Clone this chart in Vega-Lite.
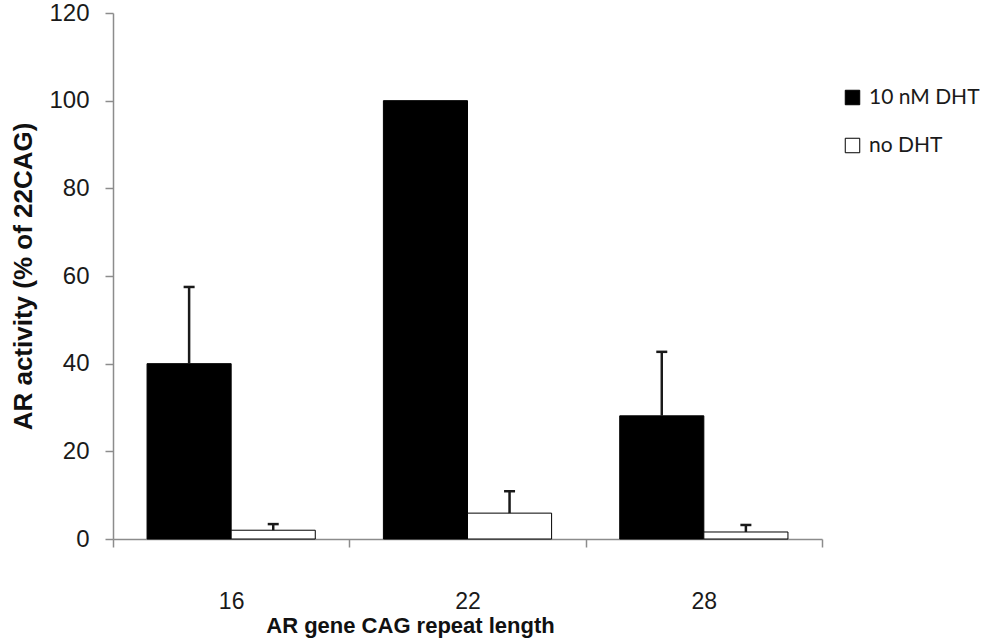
{
  "$schema": "https://vega.github.io/schema/vega-lite/v6.json",
  "width": 709,
  "height": 526,
  "autosize": {"type": "none"},
  "padding": {"left": 113, "top": 13, "right": 160, "bottom": 102},
  "background": "white",
  "config": {
    "view": {"stroke": null},
    "axis": {
      "domainColor": "#8c8c8c",
      "tickColor": "#8c8c8c",
      "domainWidth": 1.5,
      "tickWidth": 1.5,
      "tickSize": 8,
      "grid": false,
      "labelFont": "Liberation Sans",
      "labelColor": "#1a1a1a",
      "titleFont": "Liberation Sans",
      "titleFontWeight": "bold",
      "titleColor": "#111"
    }
  },
  "data": {
    "values": [
      {"cag": "16", "treatment": "10 nM DHT", "value": 40, "upper": 57.5},
      {"cag": "16", "treatment": "no DHT", "value": 2, "upper": 3.4},
      {"cag": "22", "treatment": "10 nM DHT", "value": 100, "upper": null},
      {"cag": "22", "treatment": "no DHT", "value": 5.9, "upper": 10.9},
      {"cag": "28", "treatment": "10 nM DHT", "value": 28.1, "upper": 42.7},
      {"cag": "28", "treatment": "no DHT", "value": 1.6, "upper": 3.2}
    ]
  },
  "encoding": {
    "x": {
      "field": "cag",
      "type": "nominal",
      "sort": ["16", "22", "28"],
      "scale": {"paddingInner": 0, "paddingOuter": 0},
      "axis": {
        "title": "AR gene CAG repeat length",
        "titleFontSize": 22,
        "titleX": 297,
        "titleAnchor": "middle",
        "labelFontSize": 23,
        "labelAngle": 0,
        "tickBand": "extent",
        "labelPadding": 43,
        "titlePadding": 2
      }
    },
    "xOffset": {
      "field": "treatment",
      "type": "nominal",
      "sort": ["10 nM DHT", "no DHT"],
      "scale": {"paddingInner": 0, "paddingOuter": 0.405}
    }
  },
  "layer": [
    {
      "mark": {"type": "bar", "stroke": "black", "strokeWidth": 1},
      "encoding": {
        "y": {
          "field": "value",
          "type": "quantitative",
          "scale": {"domain": [0, 120], "nice": false},
          "axis": {
            "title": "AR activity (% of 22CAG)",
            "titleFontSize": 26,
            "labelFontSize": 24,
            "values": [0, 20, 40, 60, 80, 100, 120],
            "labelPadding": 16,
            "titlePadding": 12
          }
        },
        "color": {
          "field": "treatment",
          "type": "nominal",
          "sort": ["10 nM DHT", "no DHT"],
          "scale": {"domain": ["10 nM DHT", "no DHT"], "range": ["black", "white"]},
          "legend": {
            "title": null,
            "orient": "none",
            "legendX": 729,
            "legendY": 74,
            "symbolType": "square",
            "symbolSize": 210,
            "symbolStrokeColor": "black",
            "symbolStrokeWidth": 1,
            "symbolOpacity": 1,
            "labelFont": "Lato",
            "labelFontSize": 21,
            "labelColor": "#1a1a1a",
            "labelOffset": 6,
            "rowPadding": 26
          }
        }
      }
    },
    {
      "transform": [{"filter": "datum.upper != null"}],
      "mark": {"type": "rule", "stroke": "#1a1a1a", "strokeWidth": 2.5},
      "encoding": {
        "y": {"field": "value", "type": "quantitative"},
        "y2": {"field": "upper"}
      }
    },
    {
      "transform": [{"filter": "datum.upper != null"}],
      "mark": {"type": "tick", "orient": "horizontal", "size": 11, "thickness": 2.5, "color": "#1a1a1a", "opacity": 1},
      "encoding": {
        "y": {"field": "upper", "type": "quantitative"}
      }
    }
  ]
}
